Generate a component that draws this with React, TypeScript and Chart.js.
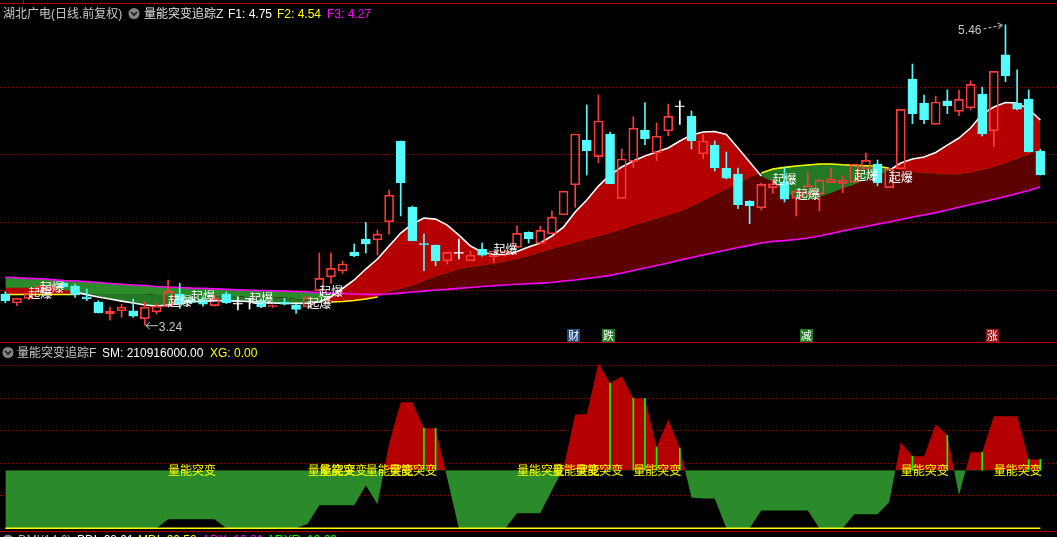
import React, { useEffect, useRef } from 'react';
import { Chart, registerables } from 'chart.js';

Chart.register(...registerables);

// ---------------- data ----------------
const opens = [3.470,3.406,3.438,3.494,3.505,3.552,3.529,3.450,3.411,3.324,
3.347,3.347,3.288,3.339,3.376,3.470,3.430,3.426,3.384,3.470,
3.396,3.433,3.421,3.376,3.411,3.389,3.376,3.495,3.598,3.642,
3.780,3.877,3.871,4.004,4.601,4.113,3.842,3.832,3.716,3.771,
3.716,3.803,3.746,3.770,3.815,3.926,3.845,3.916,4.056,4.278,
4.608,4.485,4.653,4.177,4.451,4.682,4.514,4.677,4.854,4.786,
4.507,4.571,4.401,4.357,4.157,4.108,4.256,4.293,4.177,4.207,
4.209,4.293,4.288,4.296,4.396,4.431,4.256,4.396,5.059,4.882,
4.724,4.897,4.820,4.847,4.948,4.677,5.237,4.882,4.911,4.527];
const highs = [3.487,3.440,3.480,3.540,3.540,3.560,3.544,3.507,3.421,3.374,
3.396,3.433,3.411,3.401,3.574,3.549,3.450,3.450,3.460,3.485,
3.450,3.440,3.435,3.390,3.440,3.395,3.450,3.773,3.773,3.714,
3.840,4.000,3.943,4.239,4.601,4.120,3.913,3.832,3.780,3.877,
3.790,3.847,3.790,3.800,3.975,3.930,3.973,4.084,4.231,4.653,
4.867,4.941,4.667,4.542,4.780,4.884,4.734,4.874,4.897,4.823,
4.650,4.601,4.520,4.401,4.160,4.290,4.313,4.407,4.231,4.372,
4.313,4.401,4.344,4.429,4.512,4.460,4.396,4.835,5.170,4.941,
4.933,4.978,4.978,5.047,4.998,5.116,5.460,5.126,4.978,4.540];
const lows = [3.406,3.384,3.430,3.490,3.500,3.515,3.446,3.421,3.330,3.278,
3.298,3.298,3.240,3.322,3.374,3.364,3.400,3.381,3.380,3.400,
3.352,3.359,3.370,3.370,3.389,3.327,3.370,3.490,3.549,3.623,
3.746,3.773,3.758,3.913,4.047,3.864,3.642,3.679,3.692,3.729,
3.716,3.750,3.700,3.750,3.815,3.847,3.845,3.916,4.056,4.113,
4.350,4.441,4.286,4.177,4.404,4.574,4.455,4.640,4.724,4.542,
4.468,4.379,4.320,4.101,3.990,4.091,4.214,4.150,4.047,4.200,
4.084,4.293,4.219,4.296,4.396,4.271,4.256,4.396,4.729,4.729,
4.724,4.803,4.788,4.830,4.638,4.559,5.039,4.830,4.520,4.350];
const closes = [3.421,3.438,3.475,3.529,3.525,3.523,3.463,3.435,3.332,3.344,
3.374,3.307,3.374,3.381,3.490,3.396,3.410,3.396,3.438,3.406,
3.396,3.433,3.376,3.384,3.396,3.357,3.446,3.586,3.660,3.692,
3.751,3.840,3.913,4.200,4.293,3.864,3.835,3.714,3.778,3.771,
3.758,3.758,3.788,3.790,3.919,3.877,3.941,4.039,4.231,4.653,
4.529,4.749,4.286,4.468,4.695,4.618,4.636,4.783,4.854,4.603,
4.601,4.404,4.327,4.130,4.123,4.281,4.285,4.172,4.231,4.271,
4.313,4.320,4.313,4.429,4.458,4.293,4.396,4.835,4.803,4.758,
4.889,4.862,4.909,5.020,4.653,5.116,5.084,4.837,4.520,4.350];

const f1 = [3.517,3.517,3.517,3.517,3.511,3.500,3.485,3.466,3.448,3.433,
3.418,3.404,3.389,3.381,3.389,3.400,3.411,3.418,3.421,3.421,
3.418,3.415,3.407,3.404,3.401,3.401,3.401,3.411,3.448,3.511,
3.574,3.655,3.729,3.825,3.921,3.988,4.032,4.024,3.980,3.906,
3.825,3.780,3.762,3.762,3.784,3.817,3.847,3.899,3.965,4.076,
4.165,4.268,4.350,4.409,4.453,4.490,4.520,4.549,4.601,4.645,
4.667,4.671,4.649,4.549,4.446,4.342,4.298,4.231,4.176,4.165,
4.187,4.217,4.250,4.279,4.313,4.350,4.383,4.438,4.468,4.483,
4.516,4.571,4.623,4.697,4.800,4.852,4.885,4.882,4.837,4.756];
const f2 = [3.467,3.467,3.467,3.467,3.467,3.467,3.467,3.467,3.470,3.470,
3.470,3.470,3.470,3.463,3.463,3.463,3.463,3.456,3.456,3.456,
3.456,3.444,3.444,3.444,3.444,3.433,3.422,3.415,3.411,3.415,
3.422,3.433,3.448,3.485,3.507,3.529,3.562,3.596,3.622,3.651,
3.666,3.677,3.690,3.707,3.725,3.747,3.773,3.799,3.821,3.847,
3.869,3.895,3.917,3.943,3.973,3.999,4.024,4.050,4.076,4.113,
4.154,4.198,4.239,4.283,4.328,4.365,4.394,4.406,4.416,4.424,
4.431,4.431,4.425,4.421,4.418,4.414,4.400,4.383,4.368,4.361,
4.357,4.350,4.353,4.365,4.383,4.405,4.435,4.466,4.497,4.534];
const f3 = [3.594,3.590,3.586,3.583,3.577,3.570,3.566,3.562,3.555,3.548,
3.542,3.537,3.533,3.526,3.522,3.518,3.514,3.512,3.508,3.505,
3.501,3.498,3.496,3.494,3.492,3.489,3.485,3.481,3.477,3.474,
3.470,3.468,3.468,3.470,3.477,3.485,3.492,3.500,3.505,3.512,
3.518,3.526,3.531,3.537,3.542,3.546,3.551,3.556,3.566,3.574,
3.585,3.596,3.608,3.625,3.644,3.662,3.681,3.699,3.721,3.740,
3.758,3.777,3.795,3.814,3.830,3.847,3.859,3.865,3.873,3.884,
3.899,3.917,3.936,3.954,3.969,3.987,4.002,4.021,4.039,4.054,
4.072,4.091,4.111,4.132,4.150,4.170,4.191,4.213,4.235,4.263];

const qibaoBars = [3, 4, 15, 17, 22, 27, 28, 43, 67, 69, 74, 77];
const qibaoPrices = [3.477, 3.522, 3.418, 3.455, 3.440, 3.404, 3.492, 3.803, 4.320, 4.209, 4.350, 4.335];
const tagBars = [49, 52, 69, 85];
const tagTexts = ['财', '跌', '减', '涨'];
const topTicks = [3.5, 4.0, 4.5, 5.0];

const smValues = [0,0,0,0,0,0,0,0,0,0,
0,0,0,0,2.8,2.8,2.8,2.8,2.8,0,
0,0,0,0,0,0,1.4,7.1,7.1,7.1,
7.1,13.2,7.4,26,38.8,38.8,30.8,30.8,15.4,0,
0,0,0,0,4.6,4.6,4.6,11.7,18.5,35.1,
35.1,50.8,44.6,46.8,40,40,24.9,33.5,24.6,9.5,
9.2,9.2,0,0,0,5.5,5.5,5.5,5.5,5.5,
0,0,0,4.3,4.3,4.3,8,26.5,22.2,22.2,
32,28.6,10.2,23.4,23.4,34.5,34.5,34.5,21.2,21.2];
const xgValues = smValues.map(() => 0);
const smThreshold = 17.85;
const stickBars = [36, 37, 52, 54, 55, 56, 58, 78, 81, 84, 88, 89];
const signalBars = [14, 26, 27, 31, 33, 44, 47, 49, 54, 77, 85];
const bottomTicks = [10, 20, 30, 40, 50];

// ---------------- styles ----------------
const UP = '#ff3a3a';
const DOWN = '#54fcfc';
const FLAT = '#ffffff';
const FILL_RED = '#b40000';
const FILL_DARKRED = '#5c0000';
const GREEN_LIGHT = '#2b8b2b';
const GREEN_DARK = '#237823';
const GRID = '#9a0000';
const SEP = '#c00000';
const TAG_BG: Record<string, string> = { '财': '#1c4a7c', '跌': '#1f7a1f', '减': '#1f7a1f', '涨': '#8c1010' };
const FONT = '"Liberation Sans", "Noto Sans CJK SC", sans-serif';
const CJK = '"Noto Sans CJK SC", sans-serif';
const X_MIN = -0.4557;
const X_MAX = 90.43;

const idx = opens.map((_, i) => i);
const dirColor = (i: number) => (closes[i] > opens[i] ? UP : closes[i] < opens[i] ? DOWN : FLAT);
const outer = (a: number[], b: number[], c: number[], i: number) =>
  (a[i] >= b[i] && a[i] >= c[i]) || (a[i] <= b[i] && a[i] <= c[i]);

function drawIcon(ctx: any, cx: number, cy: number) {
  ctx.save();
  ctx.beginPath();
  ctx.arc(cx, cy, 5.5, 0, Math.PI * 2);
  ctx.fillStyle = '#858585';
  ctx.fill();
  ctx.beginPath();
  ctx.moveTo(cx - 3, cy - 1.5);
  ctx.lineTo(cx, cy + 1.5);
  ctx.lineTo(cx + 3, cy - 1.5);
  ctx.strokeStyle = '#1a1a1a';
  ctx.lineWidth = 1.6;
  ctx.stroke();
  ctx.restore();
}

const topOverlay = {
  id: 'topOverlay',
  afterDatasetsDraw(chart: any) {
    const { ctx, chartArea } = chart;
    const xs = chart.scales.x;
    const ys = chart.scales.y;
    ctx.save();
    ctx.font = '12px ' + CJK;
    ctx.textAlign = 'center';
    ctx.textBaseline = 'middle';
    ctx.fillStyle = '#ffffff';
    qibaoBars.forEach((b, k) => {
      ctx.fillText('起爆', xs.getPixelForValue(b), ys.getPixelForValue(qibaoPrices[k]));
    });

    // high / low markers
    let hi = 0;
    let lo = 0;
    highs.forEach((v, i) => { if (v > highs[hi]) hi = i; });
    lows.forEach((v, i) => { if (v < lows[lo]) lo = i; });
    ctx.strokeStyle = '#c8c8c8';
    ctx.fillStyle = '#c8c8c8';
    ctx.lineWidth = 1;
    ctx.font = '12px ' + FONT;
    const hx = xs.getPixelForValue(hi);
    const hy = ys.getPixelForValue(highs[hi]);
    ctx.textAlign = 'right';
    ctx.fillText(highs[hi].toFixed(2), hx - 24, hy + 6);
    ctx.setLineDash([3, 2]);
    ctx.beginPath();
    ctx.moveTo(hx - 22, hy + 4);
    ctx.lineTo(hx - 3, hy + 0.5);
    ctx.stroke();
    ctx.setLineDash([]);
    ctx.beginPath();
    ctx.moveTo(hx - 8, hy - 2);
    ctx.lineTo(hx - 3, hy + 0.5);
    ctx.lineTo(hx - 7, hy + 4);
    ctx.stroke();

    const lx = xs.getPixelForValue(lo);
    const ly = ys.getPixelForValue(lows[lo]);
    ctx.beginPath();
    ctx.moveTo(lx + 13, ly + 0.5);
    ctx.lineTo(lx + 1, ly + 0.5);
    ctx.moveTo(lx + 5, ly - 3);
    ctx.lineTo(lx + 1, ly + 0.5);
    ctx.lineTo(lx + 5, ly + 4);
    ctx.stroke();
    ctx.textAlign = 'left';
    ctx.fillText(lows[lo].toFixed(2), lx + 14, ly + 2);

    // event tags
    ctx.font = '11px ' + CJK;
    ctx.textAlign = 'center';
    tagBars.forEach((b, k) => {
      const cx = xs.getPixelForValue(b) - 1.5;
      const top = chartArea.bottom - 13;
      ctx.fillStyle = TAG_BG[tagTexts[k]];
      ctx.fillRect(Math.round(cx - 6.5), top, 13, 13);
      ctx.fillStyle = '#ffffff';
      ctx.fillText(tagTexts[k], cx, top + 6.5);
    });
    ctx.restore();
    drawIcon(ctx, 134, 13.5);
  },
};

const bottomOverlay = {
  id: 'bottomOverlay',
  afterDatasetsDraw(chart: any) {
    const { ctx } = chart;
    const xs = chart.scales.x;
    const ys = chart.scales.y;
    ctx.save();
    ctx.font = '12px ' + CJK;
    ctx.textAlign = 'left';
    ctx.textBaseline = 'middle';
    ctx.fillStyle = '#ffff00';
    signalBars.forEach((b) => {
      ctx.fillText('量能突变', xs.getPixelForValue(b), ys.getPixelForValue(smThreshold));
    });
    ctx.restore();
    drawIcon(ctx, 8, 9.5);
    drawIcon(ctx, 8, 197);
  },
};

function xScale() {
  return { type: 'linear', min: X_MIN, max: X_MAX, display: false, offset: false };
}

function yScale(min: number, max: number, ticks: number[]) {
  return {
    type: 'linear',
    min,
    max,
    position: 'left',
    afterBuildTicks: (s: any) => { s.ticks = ticks.map((v) => ({ value: v })); },
    afterFit: (s: any) => { s.width = 0; },
    ticks: { display: false },
    grid: { color: GRID, lineWidth: 1, drawTicks: false },
    border: { display: false, dash: [1, 3] },
  };
}

function topConfig(): any {
  const line = (data: number[]) => data.map((v, i) => ({ x: i, y: v }));
  return {
    type: 'bar',
    data: {
      datasets: [
        { type: 'line', data: line(f3), borderColor: '#ff00ff', borderWidth: 1.6, pointRadius: 0, fill: false, order: 5 },
        { type: 'line', data: line(f2), borderColor: 'rgba(0,0,0,0)', borderWidth: 0, pointRadius: 0,
          fill: { target: 0, above: FILL_DARKRED, below: GREEN_LIGHT }, order: 9 },
        { type: 'line', data: line(f1), borderColor: 'rgba(0,0,0,0)', borderWidth: 0, pointRadius: 0,
          fill: { target: 1, above: FILL_RED, below: GREEN_DARK }, order: 8 },
        { type: 'line', data: line(f2), borderWidth: 1.6, pointRadius: 0, fill: false, order: 6,
          borderColor: '#ffff00',
          segment: { borderColor: (c: any) => (outer(f2, f1, f3, c.p0DataIndex) && outer(f2, f1, f3, c.p1DataIndex) ? '#ffff00' : 'rgba(0,0,0,0)') } },
        { type: 'line', data: line(f1), borderWidth: 1.6, pointRadius: 0, fill: false, order: 4,
          borderColor: '#ffffff',
          segment: { borderColor: (c: any) => (outer(f1, f2, f3, c.p0DataIndex) || outer(f1, f2, f3, c.p1DataIndex) ? '#ffffff' : 'rgba(0,0,0,0)') } },
        { type: 'bar', data: idx.map((i) => ({ x: i, y: [lows[i], Math.min(opens[i], closes[i])] })),
          grouped: false, barThickness: 1, backgroundColor: idx.map(dirColor), borderWidth: 0, order: 3 },
        { type: 'bar', data: idx.map((i) => ({ x: i, y: [Math.max(opens[i], closes[i]), highs[i]] })),
          grouped: false, barThickness: 1, backgroundColor: idx.map(dirColor), borderWidth: 0, order: 3 },
        { type: 'bar', data: idx.map((i) => ({ x: i, y: [opens[i], closes[i]] })),
          grouped: false, barThickness: 9, minBarLength: 1, borderWidth: 1, borderSkipped: false,
          borderColor: idx.map(dirColor),
          backgroundColor: idx.map((i) => (closes[i] > opens[i] ? 'rgba(0,0,0,0)' : dirColor(i))),
          order: 1 },
      ],
    },
    options: {
      responsive: false,
      maintainAspectRatio: false,
      animation: false,
      events: [],
      layout: { padding: 0 },
      plugins: { legend: { display: false }, tooltip: { enabled: false } },
      elements: { line: { tension: 0 } },
      scales: { x: xScale(), y: yScale(3.1158, 5.6429, topTicks) },
    },
    plugins: [topOverlay],
  };
}

function bottomConfig(): any {
  return {
    type: 'bar',
    data: {
      datasets: [
        { type: 'line', data: smValues.map((v, i) => ({ x: i, y: v })), borderColor: 'rgba(0,0,0,0)', borderWidth: 0,
          pointRadius: 0, fill: { target: { value: smThreshold }, above: FILL_RED, below: GREEN_LIGHT }, order: 5 },
        { type: 'line', data: xgValues.map((v, i) => ({ x: i, y: v })), borderColor: '#ffff00', borderWidth: 1.5,
          pointRadius: 0, fill: false, order: 2 },
        { type: 'bar', data: stickBars.map((b) => ({ x: b, y: [smThreshold, smValues[b]] })), grouped: false,
          barThickness: 1, backgroundColor: '#00ff00', borderWidth: 0, order: 1 },
      ],
    },
    options: {
      responsive: false,
      maintainAspectRatio: false,
      animation: false,
      events: [],
      layout: { padding: 0 },
      plugins: { legend: { display: false }, tooltip: { enabled: false } },
      elements: { line: { tension: 0 } },
      scales: { x: xScale(), y: yScale(-2.677, 57.015, bottomTicks) },
    },
    plugins: [bottomOverlay],
  };
}

function Txt({ x, y, c, s }: { x: number; y: number; c: string; s: string }) {
  return (
    <div style={{ position: 'absolute', left: x, top: y - 8, height: 16, lineHeight: '16px', fontSize: 12,
      color: c, whiteSpace: 'nowrap', fontFamily: FONT }}>{s}</div>
  );
}

export default function App() {
  const topRef = useRef<HTMLCanvasElement>(null);
  const botRef = useRef<HTMLCanvasElement>(null);
  useEffect(() => {
    const a = new Chart(topRef.current as HTMLCanvasElement, topConfig());
    const b = new Chart(botRef.current as HTMLCanvasElement, bottomConfig());
    return () => { a.destroy(); b.destroy(); };
  }, []);
  return (
    <div style={{ position: 'fixed', left: 0, top: 0, width: 1057, height: 537, background: '#000', overflow: 'hidden' }}>
      <canvas ref={topRef} width={1057} height={342} style={{ position: 'absolute', left: 0, top: 0 }} />
      <canvas ref={botRef} width={1057} height={194} style={{ position: 'absolute', left: 0, top: 343 }} />
      <div style={{ position: 'absolute', left: 0, top: 3, width: 1057, height: 1, background: SEP }} />
      <div style={{ position: 'absolute', left: 23, top: 0, width: 1, height: 3, background: SEP }} />
      <div style={{ position: 'absolute', left: 0, top: 342, width: 1057, height: 1, background: SEP }} />
      <div style={{ position: 'absolute', left: 0, top: 531, width: 1057, height: 1, background: SEP }} />
      <Txt x={3} y={13.5} c="#c8c8c8" s="湖北广电(日线.前复权)" />
      <Txt x={144} y={13.5} c="#e0e0e0" s="量能突变追踪Z" />
      <Txt x={228} y={13.5} c="#ffffff" s="F1: 4.75" />
      <Txt x={277} y={13.5} c="#ffff00" s="F2: 4.54" />
      <Txt x={327} y={13.5} c="#ff00ff" s="F3: 4.27" />
      <Txt x={17} y={352.5} c="#c8c8c8" s="量能突变追踪F" />
      <Txt x={102} y={352.5} c="#ffffff" s="SM: 210916000.00" />
      <Txt x={210} y={352.5} c="#ffff00" s="XG: 0.00" />
      <Txt x={18} y={540} c="#b0b0b0" s="DMI(14,6)" />
      <Txt x={77} y={540} c="#ffffff" s="PDI: 28.01" />
      <Txt x={138} y={540} c="#ffff00" s="MDI: 20.52" />
      <Txt x={202} y={540} c="#ff00ff" s="ADX: 19.81" />
      <Txt x={267} y={540} c="#00ff00" s="ADXR: 19.09" />
    </div>
  );
}
